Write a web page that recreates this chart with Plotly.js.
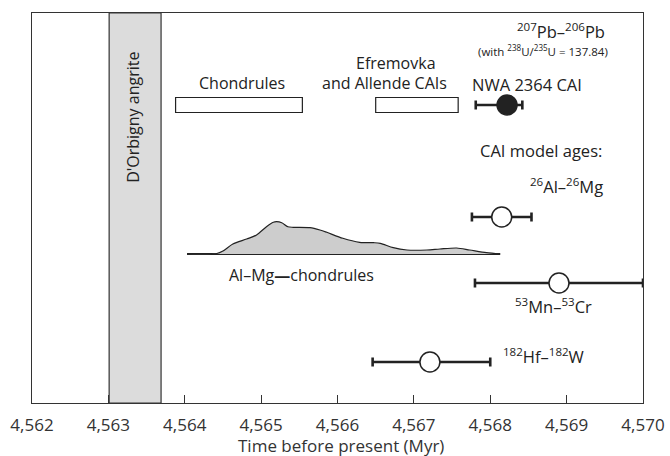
<!DOCTYPE html>
<html>
<head>
<meta charset="utf-8">
<script src="https://cdn.plot.ly/plotly-3.0.1.min.js"></script>
<style>html,body{margin:0;padding:0;background:#fff;}#chart{width:670px;height:456px;}</style>
</head>
<body>
<div id="chart"></div>
<script>
// ---- data ----
// Age points (Myr) with asymmetric errors
const pointLabels = ["NWA 2364 CAI (Pb-Pb)", "26Al-26Mg", "53Mn-53Cr", "182Hf-182W"];
const pointAge = [4568.22, 4568.15, 4568.90, 4567.21];
const pointErrPlus = [0.20, 0.39, 1.10, 0.79];
const pointErrMinus = [0.41, 0.39, 1.10, 0.75];
const pointRow = [298, 186, 120, 41];          // vertical row positions (plot units)
const pointFilled = [true, false, false, false];

// Age ranges (boxes)
const rangeLabels = ["Chondrules", "Efremovka and Allende CAIs"];
const rangeStart = [4563.88, 4566.50];
const rangeEnd = [4565.54, 4567.58];
const rangeRow = [298, 298];

// D'Orbigny angrite band
const bandStart = 4563.01;
const bandEnd = 4563.69;

// Al-Mg chondrule age distribution (relative density)
const densityAge = [4564.03, 4564.42, 4564.50, 4564.63, 4564.81, 4564.94, 4565.07, 4565.16, 4565.20, 4565.27, 4565.35, 4565.42, 4565.64, 4565.77, 4565.86, 4566.07, 4566.29, 4566.47, 4566.56, 4566.73, 4566.91, 4567.17, 4567.34, 4567.56, 4567.73, 4567.95, 4568.13];
const densityValue = [0, 0.5, 3, 10, 15, 19, 27.3, 31.7, 32.3, 31.3, 27.3, 26.7, 26.3, 24, 21.7, 15.7, 11.7, 11.3, 10.7, 6.3, 4, 4, 5, 6, 4, 1.3, 0];
const densityBaseline = 149;

const xTicks = [4562, 4563, 4564, 4565, 4566, 4567, 4568, 4569, 4570];
const xTitle = 'Time before present (Myr)';

// ---- style ----
const INK = '#222';
const FONT = 'Open Sans, Noto Sans, sans-serif';

const traces = [];

// density baseline
traces.push({
  x: [densityAge[0], densityAge[densityAge.length - 1]],
  y: [densityBaseline, densityBaseline],
  mode: 'lines', line: {color: INK, width: 2}, hoverinfo: 'skip', showlegend: false
});
// density curve
traces.push({
  x: densityAge,
  y: densityValue.map(v => densityBaseline + v),
  mode: 'lines', fill: 'toself', fillcolor: '#cdcdcd',
  line: {color: INK, width: 1.2, shape: 'spline', smoothing: 0.8},
  hoverinfo: 'skip', showlegend: false
});

// points
pointAge.forEach((a, i) => {
  traces.push({
    x: [a], y: [pointRow[i]],
    mode: 'markers',
    marker: {size: 20, color: pointFilled[i] ? INK : '#fff', line: {color: INK, width: 1.5}},
    error_x: {type: 'data', symmetric: false, array: [pointErrPlus[i]], arrayminus: [pointErrMinus[i]],
              color: INK, thickness: 2.6, width: 4.5},
    cliponaxis: false, name: pointLabels[i], showlegend: false
  });
});

const shapes = [];
shapes.push({type: 'rect', xref: 'x', yref: 'paper', x0: bandStart, x1: bandEnd, y0: 0, y1: 1,
  fillcolor: '#dcdcdc', line: {color: '#333', width: 1.2}, layer: 'below'});
rangeStart.forEach((s, i) => {
  shapes.push({type: 'rect', xref: 'x', yref: 'y', x0: s, x1: rangeEnd[i], y0: rangeRow[i] - 7.5, y1: rangeRow[i] + 7.5,
    fillcolor: '#fff', line: {color: INK, width: 1.2}});
});

function ann(text, x, y, size, extra) {
  return Object.assign({text: text, x: x, y: y, xref: 'x', yref: 'y', showarrow: false,
    font: {family: FONT, size: size, color: INK}, xanchor: 'center', yanchor: 'middle'}, extra || {});
}

const annotations = [
  ann('<sup>207</sup>Pb–<sup>206</sup>Pb', 4568.93, 372, 16.5),
  ann('(with <sup>238</sup>U/<sup>235</sup>U = 137.84)', 4568.69, 353, 11.5),
  ann('NWA 2364 CAI', 4568.48, 319, 16.5),
  ann('Efremovka', 4566.77, 340, 16),
  ann('and Allende CAIs', 4566.61, 320, 16),
  ann('Chondrules', 4564.75, 320, 16),
  ann('CAI model ages:', 4568.66, 253, 16.5),
  ann('<sup>26</sup>Al–<sup>26</sup>Mg', 4569.00, 217, 16.5),
  ann('Al–Mg<b>—</b>chondrules', 4565.53, 128, 16),
  ann('<sup>53</sup>Mn–<sup>53</sup>Cr', 4568.83, 97, 16.5),
  ann('<sup>182</sup>Hf–<sup>182</sup>W', 4568.70, 47, 16.5),
  ann("D'Orbigny angrite", 4563.32, 286, 16, {textangle: -90}),
  // x-axis title placed in paper space below the tick labels
  {text: xTitle, xref: 'paper', yref: 'paper', x: (341 - 32) / 611, y: -(445 - 403) / 390,
   xanchor: 'center', yanchor: 'middle', showarrow: false,
   font: {family: FONT, size: 17, color: '#333'}}
];

const layout = {
  width: 670, height: 456,
  margin: {l: 32, r: 27, t: 13, b: 53, pad: 0},
  paper_bgcolor: '#fff', plot_bgcolor: '#fff',
  font: {family: FONT, color: INK},
  showlegend: false,
  xaxis: {
    range: [4562, 4570], tickvals: xTicks, ticktext: xTicks.map(v => v.toLocaleString('en-US')),
    ticks: 'inside', ticklen: 8, tickwidth: 1.2, tickcolor: '#333',
    ticklabelstandoff: 6,
    showline: true, linecolor: '#333', linewidth: 1.2, mirror: true,
    showgrid: false, zeroline: false,
    tickfont: {family: FONT, size: 17, color: '#333'},
    automargin: false, fixedrange: true
  },
  yaxis: {
    range: [0, 390], showticklabels: false, ticks: '',
    showline: true, linecolor: '#333', linewidth: 1.2, mirror: true,
    showgrid: false, zeroline: false, automargin: false, fixedrange: true
  },
  shapes: shapes,
  annotations: annotations
};

Plotly.newPlot('chart', traces, layout, {displayModeBar: false, staticPlot: true});
</script>
</body>
</html>
